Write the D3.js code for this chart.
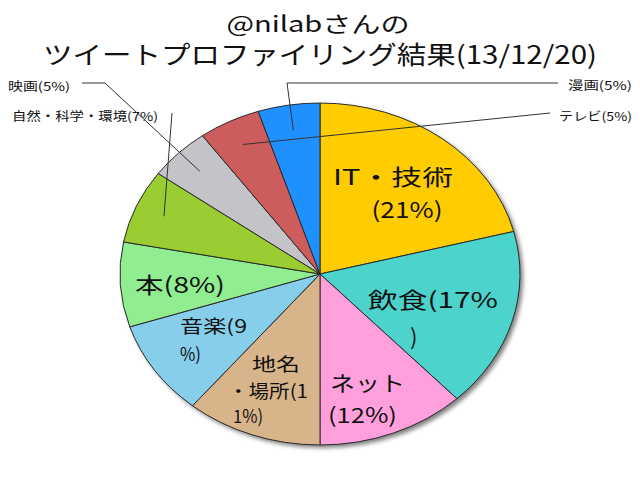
<!DOCTYPE html>
<html>
<head>
<meta charset="utf-8">
<script src="https://cdn.jsdelivr.net/npm/d3@7"></script>
<style>
  html, body { margin: 0; padding: 0; background: #fff; }
  svg { display: block; }
  text { font-family: "Noto Sans CJK JP", "Noto Sans", sans-serif; fill: #111; }
</style>
</head>
<body>
<svg id="chart" width="640" height="480"></svg>
<script>
// ---- data ----
const categories = ["IT・技術", "飲食", "ネット", "地名・場所", "音楽", "本", "自然・科学・環境", "映画", "テレビ", "漫画"];
const values = [21, 17, 12, 11, 9, 8, 7, 5, 5, 5];
const colors = ["#FFCC00", "#4CD3CC", "#FFA0DC", "#D8B48A", "#87CEEB", "#90EE90", "#9ACD32", "#C4C3C8", "#CD5C5C", "#1E90FF"];
const titleLines = ["@nilabさんの", "ツイートプロファイリング結果(13/12/20)"];
// inside labels (wrapped as in the reference)
const insideLabelLines = [
  ["IT・技術", "(21%)"],
  ["飲食(17%", ")"],
  ["ネット", "(12%)"],
  ["地名", "・場所(1", "1%)"],
  ["音楽(9", "%)"],
  ["本(8%)"],
  null, null, null, null
];
// outside (leader) labels
const outsideLabels = [null, null, null, null, null, null, "自然・科学・環境(7%)", "映画(5%)", "テレビ(5%)", "漫画(5%)"];

// ---- layout ----
const W = 640, H = 480;
const cx = 320, cy = 274, rx = 200, ry = 171;
const sx = rx / ry;

const svg = d3.select("#chart");

// title
const titleLayout = [
  {x: 318, y: 22, size: 22, len: 183},
  {x: 320, y: 53, size: 25, len: 554}
];
svg.selectAll("text.title").data(titleLines).join("text")
  .attr("class", "title")
  .attr("x", (d, i) => titleLayout[i].x)
  .attr("y", (d, i) => titleLayout[i].y)
  .attr("text-anchor", "middle")
  .attr("dominant-baseline", "central")
  .attr("font-size", (d, i) => titleLayout[i].size)
  .attr("textLength", (d, i) => titleLayout[i].len)
  .attr("lengthAdjust", "spacingAndGlyphs")
  .text(d => d);

// shadow filter
const defs = svg.append("defs");
const f = defs.append("filter").attr("id", "shadow").attr("x", "-10%").attr("y", "-10%").attr("width", "130%").attr("height", "130%");
f.append("feGaussianBlur").attr("stdDeviation", 2.2);

svg.append("ellipse")
  .attr("cx", cx + 3).attr("cy", cy + 3)
  .attr("rx", rx).attr("ry", ry)
  .attr("fill", "#555").attr("opacity", 0.75)
  .attr("filter", "url(#shadow)");

const pie = d3.pie().sort(null).value(d => d);
const arcs = pie(values);
const arc = d3.arc().innerRadius(0).outerRadius(ry);
const leaderArc = d3.arc().innerRadius(ry * 0.85).outerRadius(ry * 0.85);

const g = svg.append("g").attr("transform", `translate(${cx},${cy}) scale(${sx},1)`);
g.selectAll("path").data(arcs).join("path")
  .attr("d", arc)
  .attr("fill", (d, i) => colors[i])
  .attr("stroke", "#2a2a2a")
  .attr("stroke-width", 1)
  .attr("vector-effect", "non-scaling-stroke");

// inside labels layout
const insideLayout = [
  {lines: [{x: 393, y: 175, len: 120}, {x: 407, y: 208, len: 71}], size: 22, anchor: "middle"},
  {lines: [{x: 368, y: 298, len: 130}, {x: 410, y: 335, len: 8}], size: 22, anchor: "start"},
  {lines: [{x: 330, y: 382, len: 75}, {x: 328, y: 414, len: 69}], size: 21, anchor: "start"},
  {lines: [{x: 252, y: 363, len: 48}, {x: 228, y: 390, len: 80}, {x: 233, y: 415, len: 30}], size: 18, anchor: "start"},
  {lines: [{x: 180, y: 325, len: 67}, {x: 180, y: 353, len: 21}], size: 18, anchor: "start"},
  {lines: [{x: 135, y: 283, len: 90}], size: 22, anchor: "start"}
];
insideLabelLines.forEach((lines, i) => {
  if (!lines) return;
  const L = insideLayout[i];
  lines.forEach((t, j) => {
    const p = L.lines[j];
    const el = svg.append("text")
      .attr("x", p.x).attr("y", p.y)
      .attr("text-anchor", L.anchor)
      .attr("dominant-baseline", "central")
      .attr("font-size", L.size)
      .text(t);
    if (t.length > 1) el.attr("textLength", p.len).attr("lengthAdjust", "spacingAndGlyphs");
  });
});

// leader labels: text position and elbow points (layout)
const outsideLayout = {
  6: {tx: 12, ty: 115, anchor: "start", len: 146, pts: [[172, 113]]},
  7: {tx: 8, ty: 85, anchor: "start", len: 62, pts: [[82, 83], [105, 83]]},
  8: {tx: 632, ty: 115, anchor: "end", len: 73, pts: [[550, 113]]},
  9: {tx: 632, ty: 84, anchor: "end", len: 64, pts: [[558, 83], [287, 83]]}
};
outsideLabels.forEach((t, i) => {
  if (!t) return;
  const L = outsideLayout[i];
  const c = leaderArc.centroid(arcs[i]);
  const end = [cx + c[0] * sx, cy + c[1]];
  svg.append("polyline")
    .attr("points", [...L.pts, end].map(p => p.join(",")).join(" "))
    .attr("fill", "none")
    .attr("stroke", "#333")
    .attr("stroke-width", 1);
  svg.append("text")
    .attr("x", L.tx).attr("y", L.ty)
    .attr("text-anchor", L.anchor)
    .attr("dominant-baseline", "central")
    .attr("font-size", 12)
    .attr("textLength", L.len)
    .attr("lengthAdjust", "spacingAndGlyphs")
    .text(t);
});
</script>
</body>
</html>
